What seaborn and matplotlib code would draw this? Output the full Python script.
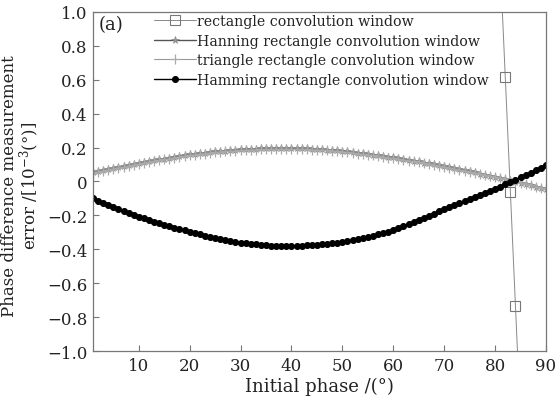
import matplotlib
matplotlib.use("Agg")
import matplotlib.pyplot as plt
import numpy as np
import pandas as pd
import seaborn as sns

# Initial phase (degrees) at which each window was evaluated
phase = list(range(1, 91))

# Rectangle window: only a few points fall inside the plotted range
rect_phase = [81, 82, 83, 84, 85]
rect_err = [1.29, 0.615, -0.06, -0.735, -1.41]

hanning_err = [
    0.055, 0.061, 0.067, 0.072, 0.078, 0.084, 0.090, 0.096, 0.102, 0.108,
    0.113, 0.119, 0.124, 0.130, 0.135, 0.140, 0.145, 0.150, 0.155, 0.160,
    0.164, 0.167, 0.171, 0.174, 0.178, 0.180, 0.182, 0.185, 0.187, 0.189,
    0.190, 0.192, 0.193, 0.195, 0.196, 0.196, 0.197, 0.197, 0.197, 0.197,
    0.196, 0.196, 0.195, 0.194, 0.193, 0.191, 0.188, 0.186, 0.183, 0.181,
    0.177, 0.174, 0.170, 0.167, 0.163, 0.159, 0.155, 0.150, 0.146, 0.142,
    0.137, 0.132, 0.128, 0.123, 0.118, 0.112, 0.107, 0.101, 0.096, 0.090,
    0.084, 0.078, 0.072, 0.066, 0.060, 0.054, 0.047, 0.041, 0.034, 0.028,
    0.021, 0.013, 0.006, -0.001, -0.008, -0.016, -0.023, -0.031, -0.038, -0.046,
]

triangle_err = [
    0.052, 0.058, 0.064, 0.069, 0.075, 0.081, 0.087, 0.092, 0.098, 0.104,
    0.109, 0.115, 0.120, 0.125, 0.130, 0.135, 0.140, 0.145, 0.150, 0.154,
    0.158, 0.162, 0.165, 0.169, 0.172, 0.175, 0.177, 0.179, 0.181, 0.183,
    0.185, 0.186, 0.187, 0.189, 0.190, 0.190, 0.191, 0.191, 0.191, 0.191,
    0.190, 0.190, 0.189, 0.188, 0.187, 0.185, 0.183, 0.180, 0.178, 0.175,
    0.172, 0.168, 0.165, 0.161, 0.158, 0.154, 0.150, 0.145, 0.141, 0.137,
    0.132, 0.128, 0.123, 0.118, 0.114, 0.108, 0.103, 0.097, 0.092, 0.086,
    0.081, 0.075, 0.069, 0.063, 0.057, 0.051, 0.045, 0.039, 0.032, 0.026,
    0.019, 0.012, 0.005, -0.002, -0.009, -0.016, -0.023, -0.030, -0.037, -0.044,
]

hamming_err = [
    -0.100, -0.113, -0.126, -0.139, -0.152, -0.164, -0.175, -0.186, -0.197, -0.207,
    -0.217, -0.227, -0.237, -0.246, -0.255, -0.264, -0.272, -0.281, -0.289, -0.297,
    -0.304, -0.312, -0.319, -0.326, -0.333, -0.338, -0.344, -0.349, -0.355, -0.360,
    -0.364, -0.368, -0.371, -0.374, -0.377, -0.378, -0.380, -0.380, -0.381, -0.381,
    -0.380, -0.379, -0.377, -0.376, -0.374, -0.371, -0.367, -0.364, -0.360, -0.357,
    -0.352, -0.346, -0.341, -0.335, -0.330, -0.321, -0.312, -0.304, -0.295, -0.286,
    -0.274, -0.262, -0.250, -0.237, -0.225, -0.213, -0.201, -0.189, -0.177, -0.165,
    -0.153, -0.141, -0.129, -0.117, -0.105, -0.093, -0.081, -0.069, -0.057, -0.045,
    -0.031, -0.017, -0.003, 0.011, 0.025, 0.039, 0.053, 0.067, 0.081, 0.095,
]

series_names = [
    "rectangle convolution window",
    "Hanning rectangle convolution window",
    "triangle rectangle convolution window",
    "Hamming rectangle convolution window",
]

x_ticks = [10, 20, 30, 40, 50, 60, 70, 80, 90]
y_ticks = [1.0, 0.8, 0.6, 0.4, 0.2, 0.0, -0.2, -0.4, -0.6, -0.8, -1.0]
y_tick_labels = ["1.0", "0.8", "0.6", "0.4", "0.2", "0", "\u22120.2", "\u22120.4",
                 "\u22120.6", "\u22120.8", "\u22121.0"]

sns.set_theme(style="white")
plt.rcParams["font.family"] = ["DejaVu Serif"]
plt.rcParams["mathtext.fontset"] = "dejavuserif"

fig = plt.figure(figsize=(5.6, 4.06), dpi=100)
ax = fig.add_axes([0.166, 0.133, 0.809, 0.835])

sns.lineplot(x=rect_phase, y=rect_err, ax=ax, color="#888888", lw=0.7,
             marker="s", markersize=6.5, markerfacecolor="none",
             markeredgecolor="#777777", markeredgewidth=0.8,
             label=series_names[0])
sns.lineplot(x=phase, y=hanning_err, ax=ax, color="#555555", lw=1.0,
             marker="*", markersize=5.5, markerfacecolor="#999999",
             markeredgecolor="#888888", markeredgewidth=0.5,
             label=series_names[1])
sns.lineplot(x=phase, y=triangle_err, ax=ax, color="#999999", lw=0.8,
             marker="+", markersize=7, markeredgecolor="#aaaaaa",
             markeredgewidth=0.9, label=series_names[2])
sns.lineplot(x=phase, y=hamming_err, ax=ax, color="black", lw=1.0,
             marker="o", markersize=4.3, markerfacecolor="black",
             markeredgecolor="black", label=series_names[3])

ax.set_xlim(1, 90)
ax.set_ylim(-1.0, 1.0)
ax.set_xticks(x_ticks)
ax.set_yticks(y_ticks)
ax.set_yticklabels(y_tick_labels)
ax.tick_params(direction="in", length=4, width=0.8, color="#777777",
               labelsize=12, labelcolor="#222222", pad=4)
ax.tick_params(axis="both", top=False, right=False, bottom=True, left=True)

for side in ["left", "bottom", "top", "right"]:
    ax.spines[side].set_color("#777777")
    ax.spines[side].set_linewidth(0.9)
    ax.spines[side].set_visible(True)

ax.set_xlabel("Initial phase /(\u00b0)", fontsize=13, color="#222222", labelpad=2)
ax.set_ylabel("Phase difference measurement\nerror /[10$^{-3}$(\u00b0)]",
              fontsize=12, color="#222222", linespacing=1.0)
ax.yaxis.set_label_coords(-0.112, 0.49)

ax.text(0.012, 0.99, "(a)", transform=ax.transAxes, ha="left", va="top",
        fontsize=13, color="#222222")

leg = ax.legend(loc="upper left", bbox_to_anchor=(0.115, 1.018), frameon=False,
                fontsize=10.2, handlelength=3.0, handletextpad=0.1,
                labelspacing=0.38, borderaxespad=0.2)
for t in leg.get_texts():
    t.set_color("#222222")

fig.savefig("out.png", dpi=100)
